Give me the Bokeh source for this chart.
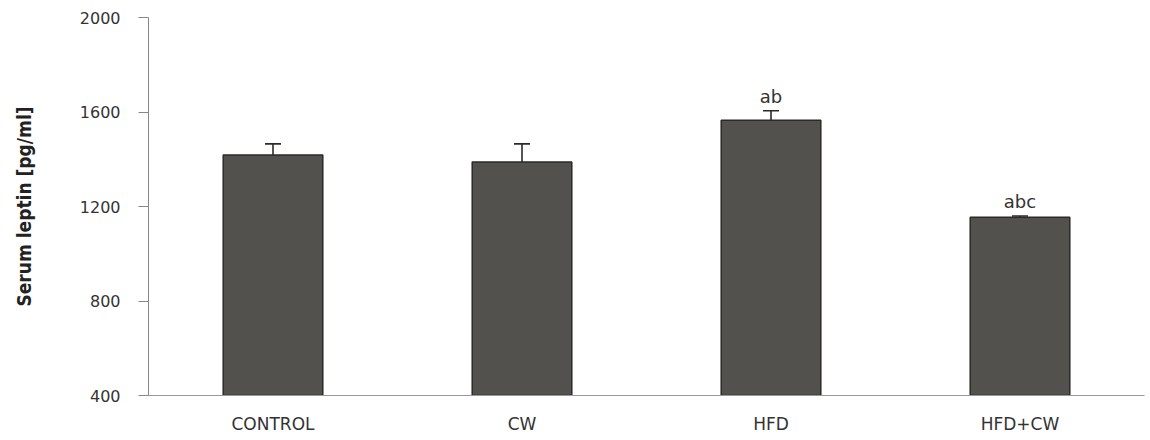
from bokeh.plotting import figure
from bokeh.models import ColumnDataSource, Whisker, TeeHead, FixedTicker, Range1d
from bokeh.core.properties import value
from bokeh.embed import file_html
from bokeh.resources import INLINE

# Serum leptin by group (pg/ml)
groups = ["CONTROL", "CW", "HFD", "HFD+CW"]
means = [1418, 1388, 1565, 1155]
errors = [47, 77, 40, 5]
letters = ["", "", "ab", "abc"]
y_ticks = [400, 800, 1200, 1600, 2000]

src = ColumnDataSource(dict(
    group=groups,
    mean=means,
    upper=[m + e for m, e in zip(means, errors)],
    letters=letters,
))

p = figure(
    x_range=groups,
    y_range=Range1d(400, 2000),
    width=1150, height=440,
    output_backend="svg", toolbar_location=None,
    min_border_left=148, min_border_right=6,
    min_border_top=17, min_border_bottom=45,
    outline_line_color=None,
)
p.background_fill_color = "white"
p.border_fill_color = "white"
p.grid.visible = False

p.vbar(x="group", top="mean", bottom=400, width=0.4, source=src,
       fill_color="#52514e", line_color="#2a2a28", line_width=1.5)

p.add_layout(Whisker(
    source=src, base="group", upper="upper", lower="mean",
    line_color="#2a2a2a", line_width=1.6,
    upper_head=TeeHead(size=16, line_color="#2a2a2a", line_width=1.6),
    lower_head=None,
))

p.text(x="group", y="upper", text="letters", source=src,
       text_align="center", text_baseline="bottom", y_offset=-4,
       text_font=value("DejaVu Sans"), text_font_size="18px",
       text_color="#333333")

# y axis
p.yaxis.ticker = FixedTicker(ticks=y_ticks)
p.yaxis.minor_tick_line_color = None
p.yaxis.major_tick_in = 0
p.yaxis.major_tick_out = 10
p.yaxis.major_tick_line_color = "#888888"
p.yaxis.axis_line_color = "#888888"
p.yaxis.major_label_standoff = 18
p.yaxis.major_label_text_font = "DejaVu Sans"
p.yaxis.major_label_text_font_size = "16px"
p.yaxis.major_label_text_color = "#333333"
p.yaxis.axis_label = "Serum leptin [pg/ml]"
p.yaxis.axis_label_text_font = "DejaVu Sans Condensed, Liberation Sans"
p.yaxis.axis_label_text_font_style = "bold"
p.yaxis.axis_label_text_font_size = "19px"
p.yaxis.axis_label_text_color = "#222222"
p.yaxis.axis_label_standoff = 42

# x axis
p.xaxis.major_tick_line_color = None
p.xaxis.minor_tick_line_color = None
p.xaxis.major_tick_in = 0
p.xaxis.major_tick_out = 0
p.xaxis.axis_line_color = "#999999"
p.xaxis.major_label_standoff = 18
p.xaxis.major_label_text_font = "DejaVu Sans"
p.xaxis.major_label_text_font_size = "17px"
p.xaxis.major_label_text_color = "#333333"

open("out.html", "w").write(file_html(p, INLINE))
